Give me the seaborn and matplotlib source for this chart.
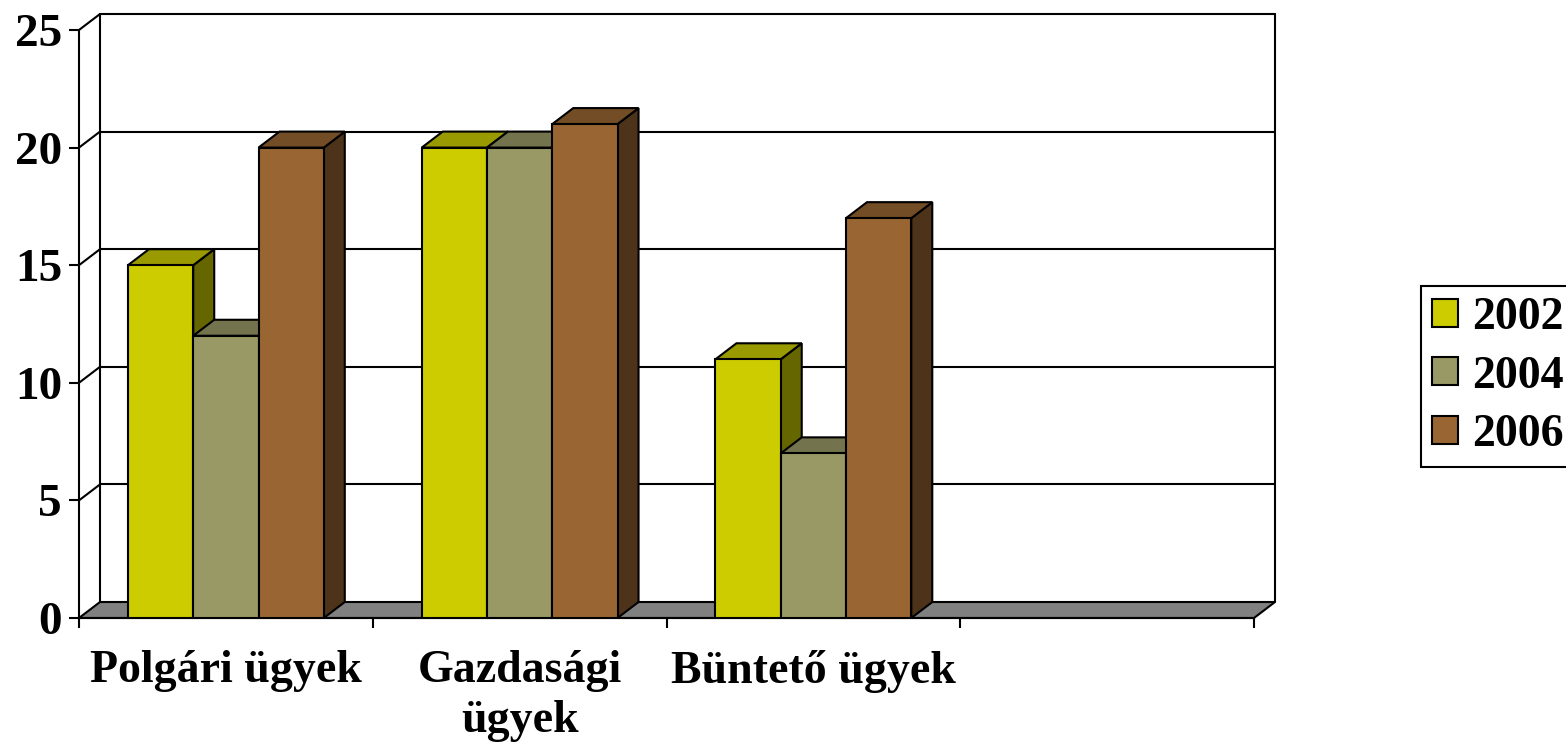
import numpy as np
import pandas as pd
import matplotlib
matplotlib.use("Agg")
import matplotlib.pyplot as plt
from matplotlib.patches import Polygon, Patch
from matplotlib.colors import to_rgb
import seaborn as sns

# ── Data ───────────────────────────────────────────────────────────────────
categories = ["Polgári ügyek", "Gazdasági ügyek", "Büntető ügyek"]
cat_labels = ["Polgári ügyek", "Gazdasági\nügyek", "Büntető ügyek", ""]
years = ["2002", "2004", "2006"]
v2002 = [15, 20, 11]
v2004 = [12, 20, 7]
v2006 = [20, 21, 17]
y_ticks = [0, 5, 10, 15, 20, 25]

colors = {"2002": "#CCCC00", "2004": "#999966", "2006": "#996633"}

df = pd.DataFrame({
    "kategoria": categories * 3,
    "ev": np.repeat(years, 3),
    "ertek": v2002 + v2004 + v2006,
})

# ── Style ──────────────────────────────────────────────────────────────────
sns.set_style("white")
plt.rcParams["font.family"] = ["Liberation Serif", "DejaVu Serif"]
plt.rcParams["font.weight"] = "bold"
plt.rcParams["text.color"] = "black"

LW = 1.5
FS = 33

fig = plt.figure(figsize=(15.66, 7.46), dpi=100)
ax = fig.add_axes([79 / 1566, 128 / 746, 1175 / 1566, 588 / 746])
ax.set_facecolor("none")

sns.barplot(data=df, x="kategoria", y="ertek", hue="ev", order=categories,
            hue_order=years, palette=colors, width=2 / 3, saturation=1,
            edgecolor="black", linewidth=LW, legend=False, ax=ax)
ax.set_xlim(-0.5, 3.5)
ax.set_ylim(0, 25)
ax.set_xlabel("")
ax.set_ylabel("")

# depth of the fake 3D box, in data units (21 px right, 16 px up)
p0 = ax.transData.transform((0, 0))
dx, dy = ax.transData.inverted().transform((p0[0] + 21, p0[1] + 16))

# ── 3D faces on the bars ───────────────────────────────────────────────────
bars = sorted([p for p in ax.patches if p.get_height() > 0], key=lambda p: p.get_x())
for k, p in enumerate(bars):
    x0, w, h = p.get_x(), p.get_width(), p.get_height()
    fc = np.array(to_rgb(p.get_facecolor()))
    top = [(x0, h), (x0 + w, h), (x0 + w + dx, h + dy), (x0 + dx, h + dy)]
    side = [(x0 + w, 0), (x0 + w + dx, dy), (x0 + w + dx, h + dy), (x0 + w, h)]
    ax.add_patch(Polygon(side, fc=fc * 0.5, ec="black", lw=LW, zorder=2 + 2 * k, clip_on=False))
    ax.add_patch(Polygon(top, fc=fc * 0.75, ec="black", lw=LW, zorder=2 + 2 * k, clip_on=False))
    p.set_zorder(3 + 2 * k)

# ── Walls and floor ────────────────────────────────────────────────────────
x_l, x_r = -0.5, 3.5
ln = dict(color="black", lw=LW, clip_on=False, zorder=0.5)
for t in y_ticks[1:]:
    ax.plot([x_l + dx, x_r + dx], [t + dy, t + dy], **ln)
    ax.plot([x_l, x_l + dx], [t, t + dy], **ln)
ax.plot([x_l + dx, x_l + dx], [dy, 25 + dy], **ln)
ax.plot([x_r + dx, x_r + dx], [dy, 25 + dy], **ln)
floor = [(x_l, 0), (x_r, 0), (x_r + dx, dy), (x_l + dx, dy)]
ax.add_patch(Polygon(floor, fc="#808080", ec="black", lw=LW, zorder=1, clip_on=False))

# ── Axes, ticks ────────────────────────────────────────────────────────────
for s in ["top", "right"]:
    ax.spines[s].set_visible(False)
for s in ["left", "bottom"]:
    ax.spines[s].set_color("black")
    ax.spines[s].set_linewidth(LW)

ax.set_yticks(y_ticks)
ax.set_yticklabels([str(t) for t in y_ticks])
ax.tick_params(axis="y", left=True, length=7.2, width=LW, pad=5, labelsize=34,
               colors="black")
ax.set_xticks(np.arange(-0.5, 3.6, 1))
ax.set_xticklabels([])
ax.set_xticks(range(4), minor=True)
ax.set_xticklabels(cat_labels, minor=True, linespacing=1.25)
ax.tick_params(axis="x", which="major", bottom=True, length=7.2, width=LW, colors="black")
ax.tick_params(axis="x", which="minor", bottom=True, length=0, pad=23, labelsize=FS,
               colors="black")

# ── Legend ─────────────────────────────────────────────────────────────────
handles = [Patch(facecolor=colors[y], edgecolor="black", linewidth=LW) for y in years]
leg = fig.legend(handles, years, loc="upper left",
                 bbox_to_anchor=(1421 / 1566, 1 - 286 / 746),
                 frameon=True, fancybox=False, framealpha=1, edgecolor="black",
                 prop=dict(size=FS, weight="bold"), handlelength=0.57,
                 handleheight=0.57, handletextpad=0.3, borderpad=0.24,
                 labelspacing=0.36, borderaxespad=0)
leg.get_frame().set_linewidth(LW)

fig.savefig("out.png", dpi=100)
